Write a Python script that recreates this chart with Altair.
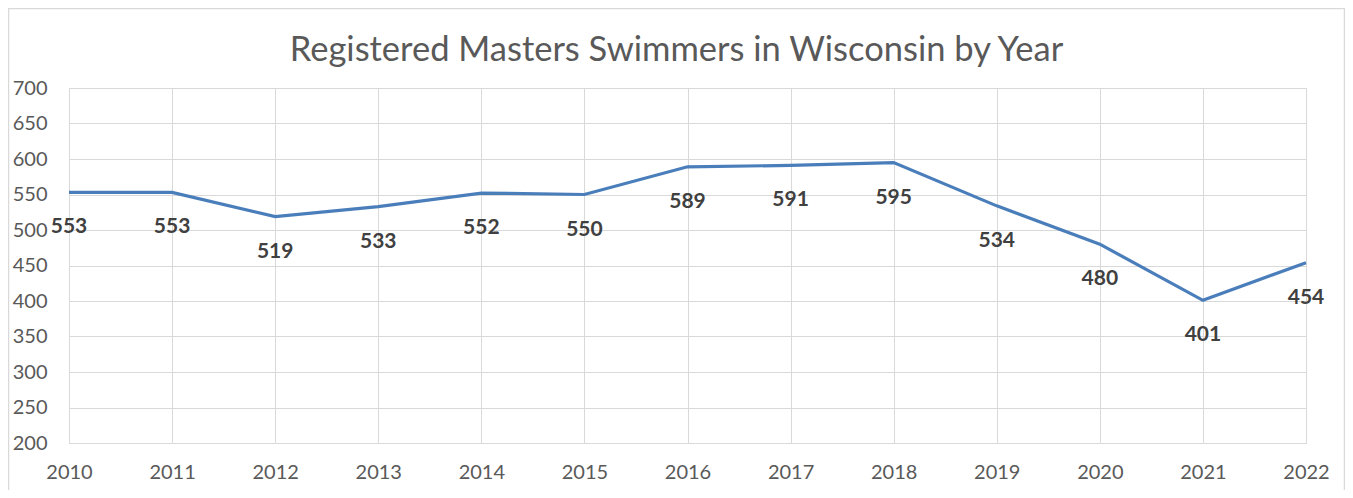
import altair as alt
import pandas as pd

years = ["2010", "2011", "2012", "2013", "2014", "2015", "2016",
         "2017", "2018", "2019", "2020", "2021", "2022"]
swimmers = [553, 553, 519, 533, 552, 550, 589, 591, 595, 534, 480, 401, 454]
y_ticks = [200, 250, 300, 350, 400, 450, 500, 550, 600, 650, 700]

df = pd.DataFrame({"year": years, "swimmers": swimmers})

FONT = "Lato"
W, H = 1237, 355

base = alt.Chart(df).encode(
    x=alt.X("year:O", sort=years, scale=alt.Scale(padding=0),
            axis=alt.Axis(title=None, labelAngle=0, labelFontSize=20, labelColor="#595959",
                          labelFont=FONT, grid=True, gridColor="#d9d9d9", ticks=False,
                          domainColor="#d9d9d9", labelPadding=19)),
    y=alt.Y("swimmers:Q", scale=alt.Scale(domain=[200, 700], nice=False, zero=False),
            axis=alt.Axis(title=None, values=y_ticks, labelFontSize=20, labelColor="#595959",
                          labelFont=FONT, grid=True, gridColor="#d9d9d9", ticks=False,
                          domain=False, labelPadding=22)),
)

line = base.mark_line(color="#4a7ebb", strokeWidth=3.2)
labels = base.mark_text(dy=35, fontSize=21, fontWeight="bold", color="#404040",
                        font=FONT).encode(text="swimmers:Q")

border = alt.Chart(pd.DataFrame({"a": [0]})).mark_rect(
    fill=None, stroke="#d9d9d9", strokeWidth=1.5
).encode(x=alt.value(-60.5), x2=alt.value(W + 38.5), y=alt.value(-79.5), y2=alt.value(H + 80))

chart = alt.layer(border, line, labels).properties(
    width=W, height=H,
    title=alt.TitleParams("Registered Masters Swimmers in Wisconsin by Year",
                          fontSize=34.5, font=FONT, fontWeight="normal", color="#595959",
                          anchor="middle", offset=-61, dx=-11),
    padding={"left": 61, "top": 80, "right": 39, "bottom": 47},
    autosize=alt.AutoSizeParams(type="none"),
).configure_view(stroke=None).configure(background="white")

chart.save("out.html", embed_options={"renderer": "svg", "actions": False})
